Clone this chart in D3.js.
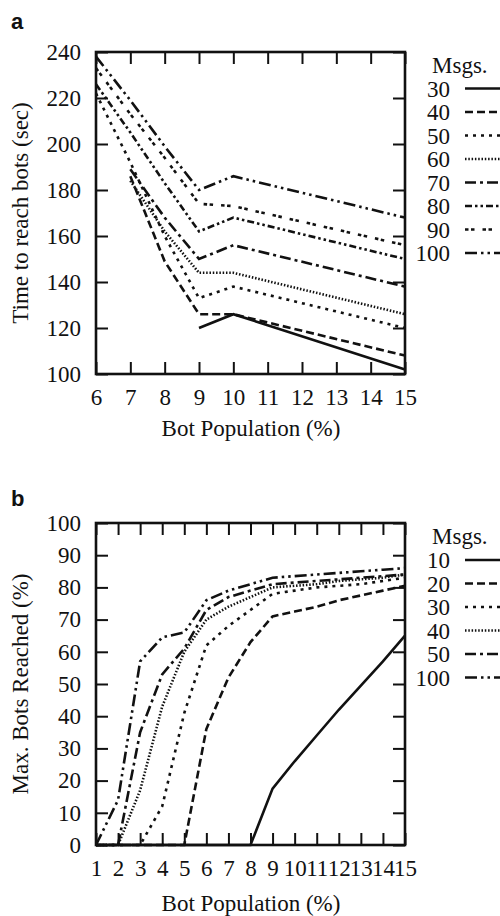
<!DOCTYPE html>
<html>
<head>
<meta charset="utf-8">
<script src="https://cdn.jsdelivr.net/npm/d3@7"></script>
<style>
  body { margin: 0; background: #fff; }
  svg { display: block; }
</style>
</head>
<body>
<div id="svg-container"></div>
<script>
//==============================
// DATA
//==============================
// panel a : time to reach bots (sec)
const popA = [6, 7, 8, 9, 10, 15];
const msgsA = ["30", "40", "50", "60", "70", "80", "90", "100"];
const time30 = [null, null, null, 120, 126, 102];
const time40 = [null, 186, 149, 126, 126, 108];
const time50 = [222, 192, 160, 133, 138, 120];
const time60 = [null, 184, 162, 144, 144, 126];
const time70 = [null, 189, 168, 150, 156, 138];
const time80 = [226, 205, 183, 162, 168, 150];
const time90 = [233, 213, 194, 174, 173, 156];
const time100 = [238, 219, 199, 180, 186, 168];
const ticksA_x = [6, 7, 8, 9, 10, 11, 12, 13, 14, 15];
const ticksA_y = [100, 120, 140, 160, 180, 200, 220, 240];

// panel b : max. bots reached (%)
const popB = [1, 2, 3, 4, 5, 6, 7, 8, 9, 10, 11, 12, 13, 14, 15];
const msgsB = ["10", "20", "30", "40", "50", "100"];
const reach10 = [0, 0, 0, 0, 0, 0, 0, 0, 17.5, 26, 34, 42, 49.5, 57, 65];
const reach20 = [0, 0, 0, 0, 0, 36, 52, 63, 71, 72.5, 74, 76, 77.5, 79, 80.5];
const reach30 = [0, 0, 0, 12, 41, 62, 68, 73, 78, 79, 80, 80.5, 81, 82, 83];
const reach40 = [0, 0, 17, 43, 60, 70, 74, 77, 80, 80.5, 81, 82, 82.5, 83, 84];
const reach50 = [0, 0, 35, 53, 61, 73, 77, 79, 81, 81.5, 82, 82.5, 83, 83.5, 84];
const reach100 = [0, 14, 57, 64.5, 66, 76, 79, 81, 83, 83.5, 84, 84.5, 85, 85.5, 86];
const ticksB_x = popB;
const ticksB_y = [0, 10, 20, 30, 40, 50, 60, 70, 80, 90, 100];

// line style for each series (dash patterns)
const dashes = {
    solid: null,
    dashed: "8,4",
    shortDash: "3,5",
    dots: "1.5,1.8",
    dashDot: "11,4,3,4",
    dashDotDot: "7,3,2.5,3,2.5,3",
    pairs: "3.5,2.5,3.5,8",
    longDashDotDot: "12,4,2.5,4,2.5,4"
};
const stylesA = [dashes.solid, dashes.dashed, dashes.shortDash, dashes.dots,
    dashes.dashDot, dashes.dashDotDot, dashes.pairs, dashes.longDashDotDot];
const stylesB = [dashes.solid, dashes.dashed, dashes.shortDash, dashes.dots,
    dashes.dashDot, dashes.longDashDotDot];

const serif = '"Liberation Serif", "Times New Roman", serif';
const fontSize = "23px";

//==============================
// DRAW
//==============================
const width = 500, height = 916;
const svg = d3.select("#svg-container").append("svg")
    .attr("width", width)
    .attr("height", height);

// small helper for serif text
const addText = (g, x, y, str, anchor) => g.append("text")
    .attr("x", x).attr("y", y)
    .attr("text-anchor", anchor || "start")
    .style("font-family", serif)
    .style("font-size", fontSize)
    .attr("fill", "#111")
    .text(str);

/**
 * draw one framed panel with inward ticks, lines and legend
 */
const drawPanel = (cfg) => {
    const x = d3.scaleLinear().domain(cfg.xDomain).range([96, 405]);
    const y = d3.scaleLinear().domain(cfg.yDomain).range([cfg.bottom, cfg.top]);
    const g = svg.append("g");

    // axes : ticks pointing inside the box on all 4 sides
    const bottom = g.append("g").attr("transform", `translate(0,${cfg.bottom})`)
        .call(d3.axisBottom(x).tickValues(cfg.xTicks).tickSize(-12).tickPadding(15).tickFormat(d3.format("d")));
    const left = g.append("g").attr("transform", "translate(96,0)")
        .call(d3.axisLeft(y).tickValues(cfg.yTicks).tickSize(-12).tickPadding(15).tickFormat(d3.format("d")));
    const top = g.append("g").attr("transform", `translate(0,${cfg.top})`)
        .call(d3.axisTop(x).tickValues(cfg.xTicks).tickSize(-12).tickFormat(""));
    const right = g.append("g").attr("transform", "translate(405,0)")
        .call(d3.axisRight(y).tickValues(cfg.yTicks).tickSize(-12).tickFormat(""));
    [bottom, left, top, right].forEach(a => {
        a.attr("font-family", null).attr("font-size", null);
        a.select(".domain").remove();
        a.selectAll(".tick line").attr("stroke", "#111").attr("stroke-width", 2);
        a.selectAll("text")
            .style("font-family", serif)
            .style("font-size", fontSize)
            .attr("fill", "#111");
    });

    // series lines
    const line = d3.line()
        .defined(d => d[1] !== null)
        .x(d => x(d[0]))
        .y(d => y(d[1]));
    cfg.series.forEach((vals, i) => {
        g.append("path")
            .datum(cfg.xs.map((xv, k) => [xv, vals[k]]))
            .attr("fill", "none")
            .attr("stroke", "#111")
            .attr("stroke-width", 2.6)
            .attr("stroke-dasharray", cfg.styles[i])
            .attr("d", line);
    });

    // frame
    g.append("rect")
        .attr("x", 96).attr("y", cfg.top)
        .attr("width", 309).attr("height", cfg.bottom - cfg.top)
        .attr("fill", "none")
        .attr("stroke", "#111")
        .attr("stroke-width", 2.6);

    // axis titles
    addText(g, 251, cfg.xTitleY, "Bot Population (%)", "middle");
    addText(g, 0, 0, cfg.yTitle, "middle")
        .attr("transform", `translate(28,${(cfg.top + cfg.bottom) / 2}) rotate(-90)`);

    // panel letter
    g.append("text")
        .attr("x", 11).attr("y", cfg.letterY)
        .style("font-family", '"Liberation Sans", Arial, sans-serif')
        .style("font-weight", "bold")
        .style("font-size", "22px")
        .attr("fill", "#111")
        .text(cfg.letter);

    // legend
    addText(g, 432, cfg.legendY, "Msgs.");
    cfg.names.forEach((name, i) => {
        const by = cfg.legendY + 24 + i * 23.5;
        addText(g, 450, by, name, "end");
        g.append("line")
            .attr("x1", 465).attr("x2", 500)
            .attr("y1", by - 8).attr("y2", by - 8)
            .attr("stroke", "#111")
            .attr("stroke-width", 2.6)
            .attr("stroke-dasharray", cfg.styles[i]);
    });
};

drawPanel({
    letter: "a", letterY: 29,
    top: 52, bottom: 374,
    xDomain: [6, 15], yDomain: [100, 240],
    xTicks: ticksA_x, yTicks: ticksA_y,
    xs: popA,
    series: [time30, time40, time50, time60, time70, time80, time90, time100],
    names: msgsA, styles: stylesA,
    xTitleY: 436, yTitle: "Time to reach bots (sec)",
    legendY: 72.5
});

drawPanel({
    letter: "b", letterY: 506,
    top: 523, bottom: 845,
    xDomain: [1, 15], yDomain: [0, 100],
    xTicks: ticksB_x, yTicks: ticksB_y,
    xs: popB,
    series: [reach10, reach20, reach30, reach40, reach50, reach100],
    names: msgsB, styles: stylesB,
    xTitleY: 911, yTitle: "Max. Bots Reached (%)",
    legendY: 544
});
</script>
</body>
</html>
